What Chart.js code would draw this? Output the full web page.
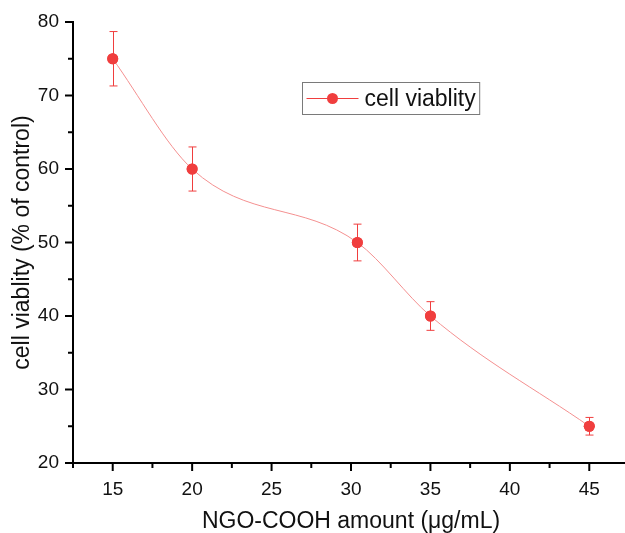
<!DOCTYPE html>
<html>
<head>
<meta charset="utf-8">
<script src="https://cdn.jsdelivr.net/npm/chart.js@4.4.0/dist/chart.umd.min.js"></script>
<style>
  html, body { margin: 0; padding: 0; background: #fff; overflow: hidden; }
  #wrap { width: 636px; height: 533px; }
</style>
</head>
<body>
<div id="wrap"><canvas id="chart" width="636" height="533"></canvas></div>
<script>
// values
const doses = [15, 20, 30.4, 35, 45];
const viability = [75, 60, 50, 40, 25];
const viabilityErr = [3.7, 3.0, 2.5, 1.95, 1.2];
const seriesLabel = 'cell viablity';
const xTitle = 'NGO-COOH amount (\u03bcg/mL)';
const yTitle = 'cell viablity (% of control)';

const RED = '#f03e3e';
const FONT = "'Liberation Sans', Arial, sans-serif";

// error bars, drawn under the markers
const errorBars = {
    id: 'errorBars',
    afterDatasetsDraw(chart) {
        const { ctx, scales: { x, y } } = chart;
        ctx.save();
        ctx.strokeStyle = RED;
        ctx.lineWidth = 1;
        doses.forEach((d, i) => {
            const px = Math.round(x.getPixelForValue(d)) + 0.5;
            const top = y.getPixelForValue(viability[i] + viabilityErr[i]);
            const bot = y.getPixelForValue(viability[i] - viabilityErr[i]);
            ctx.beginPath();
            ctx.moveTo(px, top); ctx.lineTo(px, bot);
            ctx.moveTo(px - 4, top); ctx.lineTo(px + 4, top);
            ctx.moveTo(px - 4, bot); ctx.lineTo(px + 4, bot);
            ctx.stroke();
        });
        // redraw markers on top of the bars
        const meta = chart.getDatasetMeta(0);
        meta.data.forEach(pt => {
            ctx.beginPath();
            ctx.fillStyle = RED;
            ctx.arc(pt.x, pt.y, 5.5, 0, Math.PI * 2);
            ctx.fill();
        });
        ctx.restore();
    }
};

// outward tick marks: long for labelled ticks, short for minor ones
const tickMarks = {
    id: 'tickMarks',
    afterDraw(chart) {
        const { ctx, scales: { x, y } } = chart;
        ctx.save();
        ctx.strokeStyle = '#000';
        ctx.lineWidth = 2;
        x.ticks.forEach(t => {
            const px = x.getPixelForValue(t.value);
            const len = t.value % 5 === 0 ? 8 : 5;
            ctx.beginPath();
            ctx.moveTo(px, x.top);
            ctx.lineTo(px, x.top + len);
            ctx.stroke();
        });
        y.ticks.forEach(t => {
            const py = y.getPixelForValue(t.value);
            const len = t.value % 10 === 0 ? 8 : 5;
            ctx.beginPath();
            ctx.moveTo(y.right, py);
            ctx.lineTo(y.right - len, py);
            ctx.stroke();
        });
        ctx.restore();
    }
};

// boxed legend inside the plot, as in the original
const boxLegend = {
    id: 'boxLegend',
    afterDraw(chart) {
        const { ctx } = chart;
        const bx = 302.5, by = 82.5, bh = 32;
        ctx.save();
        ctx.font = '23px ' + FONT;
        const tw = ctx.measureText(seriesLabel).width;
        const bw = 62 + tw + 4;
        ctx.fillStyle = '#fff';
        ctx.fillRect(bx, by, bw, bh);
        ctx.strokeStyle = '#7a7a7a';
        ctx.lineWidth = 1;
        ctx.strokeRect(bx, by, bw, bh);
        const cy = by + bh / 2;
        ctx.strokeStyle = RED;
        ctx.beginPath();
        ctx.moveTo(bx + 4, cy); ctx.lineTo(bx + 56, cy);
        ctx.stroke();
        ctx.fillStyle = RED;
        ctx.beginPath();
        ctx.arc(bx + 30, cy, 5.5, 0, Math.PI * 2);
        ctx.fill();
        ctx.fillStyle = '#111';
        ctx.textBaseline = 'middle';
        ctx.fillText(seriesLabel, bx + 62, cy + 1);
        ctx.restore();
    }
};

new Chart(document.getElementById('chart'), {
    type: 'line',
    data: {
        datasets: [{
            label: seriesLabel,
            data: doses.map((d, i) => ({ x: d, y: viability[i] })),
            borderColor: '#f49090',
            borderWidth: 1,
            cubicInterpolationMode: 'monotone',
            pointRadius: 5.5,
            pointBackgroundColor: RED,
            pointBorderWidth: 0,
            fill: false
        }]
    },
    options: {
        responsive: false,
        animation: false,
        layout: { padding: { top: 22, right: 1.5, left: 0, bottom: 0 } },
        plugins: {
            legend: { display: false },
            tooltip: { enabled: false }
        },
        scales: {
            x: {
                type: 'linear',
                min: 12.5,
                max: 47.5,
                afterFit: s => { s.height = 70; },
                border: { display: true, color: '#000', width: 2 },
                grid: { display: true, drawOnChartArea: false, tickLength: 8, tickColor: 'rgba(0,0,0,0)' },
                ticks: {
                    stepSize: 2.5,
                    autoSkip: false,
                    maxRotation: 0,
                    padding: 7,
                    color: '#111',
                    font: { family: FONT, size: 19 },
                    callback: v => (v % 5 === 0 ? v : '')
                },
                title: {
                    display: true,
                    text: xTitle,
                    color: '#111',
                    font: { family: FONT, size: 23, lineHeight: 1 },
                    padding: { top: 0, bottom: 0 }
                }
            },
            y: {
                min: 20,
                max: 80,
                afterFit: s => { s.width = 73; },
                border: { display: true, color: '#000', width: 2 },
                grid: { display: true, drawOnChartArea: false, tickLength: 8, tickColor: 'rgba(0,0,0,0)' },
                ticks: {
                    stepSize: 5,
                    autoSkip: false,
                    padding: 6,
                    color: '#111',
                    font: { family: FONT, size: 19 },
                    callback: v => (v % 10 === 0 ? v : '')
                },
                title: {
                    display: true,
                    text: yTitle,
                    color: '#111',
                    font: { family: FONT, size: 23, lineHeight: 1 },
                    padding: { top: 11, bottom: 0 }
                }
            }
        }
    },
    plugins: [errorBars, tickMarks, boxLegend]
});
</script>
</body>
</html>
